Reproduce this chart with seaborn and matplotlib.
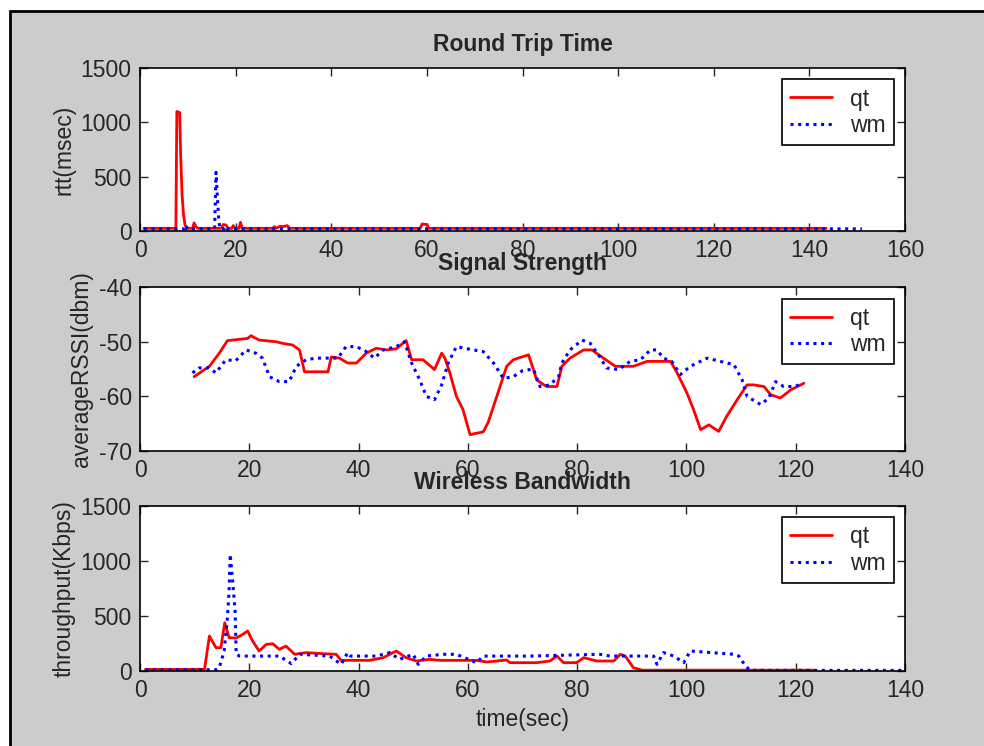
import matplotlib
matplotlib.use("Agg")
import matplotlib.pyplot as plt
from matplotlib.patches import Rectangle
import seaborn as sns

# --- Round Trip Time (msec) ---
rtt_qt_t = [0.8, 7.5, 7.7, 8.3, 8.5, 8.8, 9.1, 9.4, 9.7, 11.0, 11.3, 11.7, 12.1, 17.0, 17.4, 18.0, 18.4,
            19.2, 19.5, 19.9, 20.7, 21.0, 21.4, 27.7, 28.1, 28.5, 29.3, 29.8, 30.8, 31.3, 58.6, 59.0, 60.0, 60.4, 143.5]
rtt_qt_v = [25, 25, 1100, 1090, 700, 330, 150, 60, 25, 25, 75, 40, 25, 25, 60, 55, 25,
            25, 50, 25, 25, 80, 25, 25, 40, 25, 45, 40, 50, 25, 25, 65, 60, 25, 25]
rtt_wm_t = [0.8, 9.3, 9.6, 9.9, 15.6, 15.9, 16.2, 16.5, 16.8, 17.5, 17.8, 18.1, 151.0]
rtt_wm_v = [20, 20, 55, 20, 20, 540, 300, 80, 20, 20, 45, 20, 20]

# --- Signal Strength (dbm) ---
ss_qt_t = [9.9, 12.7, 14.5, 16.0, 19.7, 20.3, 21.8, 24.9, 26.1, 27.9, 29.2, 30.1, 34.4, 35.0, 36.5, 38.0,
           39.6, 41.4, 43.2, 45.1, 46.9, 48.7, 49.7, 51.8, 53.9, 55.2, 55.8, 56.7, 57.9, 59.1, 60.4, 62.8,
           63.7, 65.3, 67.1, 68.3, 71.1, 72.0, 72.6, 74.4, 76.3, 77.2, 78.7, 81.2, 82.7, 84.8, 87.0, 90.3,
           92.8, 97.1, 98.3, 100.1, 101.3, 102.6, 104.1, 105.9, 107.4, 109.3, 111.1, 112.3, 114.2, 115.4,
           117.2, 119.1, 121.5]
ss_qt_v = [-56.4, -54.5, -52.1, -49.8, -49.4, -48.9, -49.7, -50.0, -50.3, -50.6, -51.5, -55.5, -55.5, -52.8, -53.0, -53.9,
           -53.9, -52.1, -51.2, -51.5, -51.3, -49.8, -53.3, -53.3, -55.1, -52.1, -53.0, -55.7, -60.0, -62.4, -67.0, -66.5,
           -64.8, -60.0, -54.5, -53.3, -52.4, -55.1, -57.0, -58.2, -58.2, -54.5, -53.0, -51.5, -51.5, -53.0, -54.5, -54.5,
           -53.6, -53.6, -55.7, -59.4, -62.4, -66.1, -65.2, -66.4, -63.6, -60.6, -57.9, -57.9, -58.2, -59.7,
           -60.3, -58.8, -57.6]
ss_wm_t = [9.6, 10.8, 12.6, 13.9, 15.7, 17.5, 19.4, 21.2, 22.4, 23.7, 25.5, 27.3, 28.6, 30.4, 32.2, 34.7,
           36.2, 37.7, 39.6, 41.4, 42.9, 44.5, 46.9, 48.4, 49.7, 51.2, 52.4, 53.9, 55.2, 56.4, 57.9, 61.0,
           62.8, 64.7, 66.5, 68.3, 70.0, 72.0, 73.2, 75.0, 76.6, 77.2, 78.7, 80.9, 82.4, 83.9, 85.4, 87.6,
           89.7, 91.6, 93.4, 94.6, 95.8, 97.3, 98.9, 100.7, 103.8, 106.2, 108.7, 110.2, 111.1, 113.6, 115.1,
           116.3, 117.8, 119.7, 120.6]
ss_wm_v = [-55.7, -54.8, -54.8, -55.7, -53.3, -53.5, -51.5, -52.1, -53.0, -56.4, -57.3, -57.3, -54.5, -53.3, -53.0, -53.0,
           -53.0, -50.9, -50.9, -51.8, -53.0, -51.5, -50.9, -50.0, -53.9, -57.0, -60.0, -60.6, -57.9, -53.9, -50.9, -51.5,
           -51.8, -53.9, -56.7, -56.4, -55.3, -55.0, -58.2, -57.9, -56.4, -53.9, -51.5, -49.7, -50.3, -52.4, -54.8, -55.1,
           -53.6, -53.3, -51.5, -51.5, -53.0, -53.6, -56.0, -54.5, -53.0, -53.6, -54.2, -57.0, -60.0, -61.5, -60.3,
           -57.3, -58.2, -58.2, -57.9]

# --- Wireless Bandwidth (Kbps) ---
bw_qt_t = [1.0, 11.8, 12.7, 13.9, 14.8, 15.5, 16.3, 17.6, 18.8, 19.7, 20.6, 21.8, 23.1, 24.3, 25.5, 26.7,
           28.3, 30.4, 33.4, 35.9, 36.8, 42.0, 44.5, 46.9, 48.7, 50.6, 53.0, 54.9, 61.6, 63.4, 67.1, 67.7,
           72.6, 75.0, 76.3, 77.5, 79.9, 81.2, 83.6, 86.7, 87.9, 88.8, 90.3, 91.9, 123.3]
bw_qt_v = [15, 15, 318, 212, 212, 439, 303, 300, 333, 364, 273, 182, 242, 248, 197, 227,
           152, 167, 158, 152, 97, 97, 121, 182, 121, 91, 106, 97, 97, 82, 100, 76,
           76, 91, 136, 76, 76, 121, 91, 91, 152, 136, 30, 8, 8]
bw_wm_t = [1.0, 13.9, 14.5, 15.4, 16.0, 16.3, 16.5, 16.9, 17.4, 17.6, 18.2, 25.5, 27.7, 29.2, 34.7, 36.8,
           38.0, 38.5, 43.2, 45.7, 47.5, 50.0, 50.9, 52.4, 55.5, 57.9, 61.6, 62.8, 71.4, 84.2, 86.0, 94.0,
           94.6, 95.8, 97.7, 99.5, 100.7, 108.7, 109.6, 110.8, 111.7, 139.8]
bw_wm_v = [12, 12, 30, 182, 485, 727, 1061, 848, 545, 152, 136, 136, 67, 152, 136, 61,
           167, 136, 136, 167, 106, 152, 61, 136, 152, 152, 76, 136, 136, 152, 136, 136,
           61, 167, 136, 76, 182, 152, 136, 45, 6, 6]

sns.set_style("ticks")
plt.rcParams['font.family'] = ['Liberation Sans Narrow', 'Liberation Sans', 'DejaVu Sans']
plt.rcParams['axes.unicode_minus'] = False

fig = plt.figure(figsize=(9.84, 7.46), dpi=100, facecolor='white')
# gray window background with black frame on the top/left edges
fig.add_artist(Rectangle((9.5 / 984, -0.1), 1.1, 1.1 - 10.5 / 746, transform=fig.transFigure,
                         facecolor='#cccccc', edgecolor='black', lw=2, zorder=-10))

panels = [
    (0.6903, 0.2185, "Round Trip Time", "rtt(msec)", (0, 160), (0, 1500), [0, 500, 1000, 1500],
     rtt_qt_t, rtt_qt_v, rtt_wm_t, rtt_wm_v),
    (0.3954, 0.2198, "Signal Strength", "averageRSSI(dbm)", (0, 140), (-70, -40), [-70, -60, -50, -40],
     ss_qt_t, ss_qt_v, ss_wm_t, ss_wm_v),
    (0.1005, 0.2212, "Wireless Bandwidth", "throughput(Kbps)", (0, 140), (0, 1500), [0, 500, 1000, 1500],
     bw_qt_t, bw_qt_v, bw_wm_t, bw_wm_v),
]

fs = 16.5
for i, (y0, h, title, ylab, xl, yl, yt, qt_t, qt_v, wm_t, wm_v) in enumerate(panels):
    ax = fig.add_axes([0.1423, y0, 0.7774, h])
    ax.set_facecolor('white')
    sns.lineplot(x=qt_t, y=qt_v, ax=ax, color='red', lw=2, label='qt', estimator=None, sort=False)
    sns.lineplot(x=wm_t, y=wm_v, ax=ax, color='blue', lw=2.2, label='wm', estimator=None, sort=False,
                 linestyle=(0, (1, 1.5)))
    ax.set_xlim(*xl)
    ax.set_ylim(*yl)
    ax.set_yticks(yt)
    ax.set_xticks(range(xl[0], xl[1] + 1, 20))
    ax.tick_params(direction='in', top=True, right=True, length=6, width=1, labelsize=fs, pad=6)
    for s in ax.spines.values():
        s.set_color('black')
        s.set_linewidth(1.2)
    ax.set_title(title, fontsize=fs, fontweight='bold', pad=12)
    ax.set_ylabel(ylab, fontsize=fs)
    ax.set_xlabel("time(sec)" if i == 2 else "", fontsize=fs)
    leg = ax.legend(loc='upper right', fontsize=fs, frameon=True, fancybox=False, framealpha=1,
                    edgecolor='black', borderaxespad=0.5, handlelength=1.8, handletextpad=0.8,
                    labelspacing=0.15, borderpad=0.35)
    leg.get_frame().set_linewidth(1.2)

fig.savefig("out.png", dpi=100, facecolor=fig.get_facecolor())
